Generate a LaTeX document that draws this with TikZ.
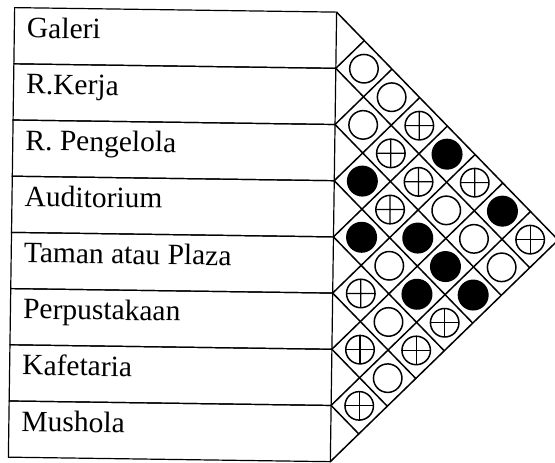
\documentclass[tikz,border=0pt]{standalone}
\usepackage{fontspec}
\setmainfont{Liberation Serif}
\begin{document}
\begin{tikzpicture}[x=1pt,y=-1pt,
  rowbox/.style={draw,line width=1.2pt,minimum width=322pt,minimum height=56.2pt,inner sep=0pt},
  lbl/.style={anchor=base west,inner sep=0pt,font=\fontsize{29.5}{31}\selectfont},
  gridline/.style={line width=1.5pt},
  cellbase/.style={circle,minimum size=28.5pt,inner sep=0pt,line width=1.5pt},
  cello/.style={cellbase,draw},
  cellf/.style={cellbase,draw,fill=black,minimum size=29.5pt},
  cellx/.style={cellbase,draw,path picture={
      \draw[line width=1.2pt] (path picture bounding box.north) -- (path picture bounding box.south)
                              (path picture bounding box.west) -- (path picture bounding box.east);}}
]
\useasboundingbox (0,0) rectangle (555,463);
\fill[white] (0,0) rectangle (555,463);
\begin{scope}[rotate around={-0.8:(277,235)},transform shape]
  \foreach \k in {0,...,8} \coordinate (b\k) at (333.5,{11.3+\k*56.2});
  \coordinate (apex) at ({333.5+4*56.2},{11.3+4*56.2});
  \foreach \txt [count=\i] in {Galeri,R.Kerja,R. Pengelola,Auditorium,Taman atau Plaza,Perpustakaan,Kafetaria,Mushola} {
    \node[rowbox] (row\i) at (172.5,{11.3+(\i-0.5)*56.2}) {};
    \node[lbl] (t\i) at (24,{11.3+(\i-1)*56.2+30}) {\txt};
  }
  \draw[gridline] (b0) -- (apex) -- (b8);
  \foreach \k in {1,...,7} {
    \draw[gridline] (b\k) -- ++({(8-\k)*28.1},{(8-\k)*28.1});
    \draw[gridline] (b\k) -- ++({\k*28.1},{-\k*28.1});
  }
  \foreach \i/\j/\s in {1/2/o,2/3/o,3/4/f,4/5/f,5/6/x,6/7/x,7/8/x,
                        1/3/o,2/4/x,3/5/x,4/6/o,5/7/o,6/8/o,
                        1/4/x,2/5/x,3/6/f,4/7/f,5/8/x,
                        1/5/f,2/6/o,3/7/f,4/8/x,
                        1/6/x,2/7/o,3/8/f,
                        1/7/f,2/8/o,
                        1/8/x} {
    \node[cell\s] (c\i\j) at ({333.5+(\j-\i)*28.1},{11.3+((\i+\j)/2-0.5)*56.2}) {};
  }
\end{scope}
\end{tikzpicture}
\end{document}
